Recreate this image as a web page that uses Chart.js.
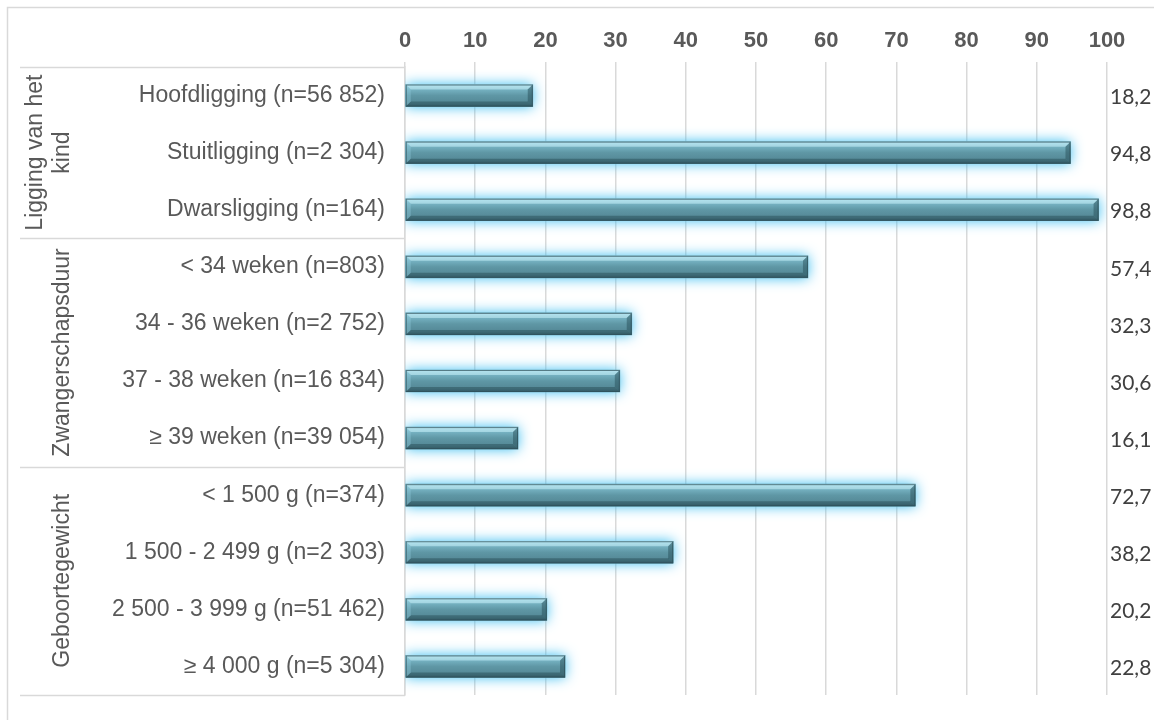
<!DOCTYPE html>
<html>
<head>
<meta charset="utf-8">
<script src="https://cdn.jsdelivr.net/npm/chart.js@4/dist/chart.umd.min.js"></script>
<style>
  html, body { margin: 0; padding: 0; background: #ffffff; }
  #wrap { width: 1154px; height: 720px; position: relative; }
</style>
</head>
<body>
<div id="wrap"><canvas id="c" width="1154" height="720"></canvas></div>
<script>
// Categories (grouped), percentages and axis ticks
const categories = [
  'Hoofdligging (n=56 852)',
  'Stuitligging (n=2 304)',
  'Dwarsligging (n=164)',
  '< 34 weken (n=803)',
  '34 - 36 weken (n=2 752)',
  '37 - 38 weken (n=16 834)',
  '≥ 39 weken (n=39 054)',
  '< 1 500 g (n=374)',
  '1 500 - 2 499 g (n=2 303)',
  '2 500 - 3 999 g (n=51 462)',
  '≥ 4 000 g (n=5 304)'
];
const values = [18.2, 94.8, 98.8, 57.4, 32.3, 30.6, 16.1, 72.7, 38.2, 20.2, 22.8];
const groupNames = [['Ligging van het', 'kind'], ['Zwangerschapsduur'], ['Geboortegewicht']];
const groupSizes = [3, 4, 4];
const xTicks = [0, 10, 20, 30, 40, 50, 60, 70, 80, 90, 100];

const GRID = '#d9d9d9';
const TEXT = '#595959';

// Outer frame of the chart object
const framePlugin = {
  id: 'frame',
  beforeDraw(chart) {
    const ctx = chart.ctx;
    ctx.save();
    ctx.fillStyle = '#ffffff';
    ctx.fillRect(0, 0, chart.width, chart.height);
    ctx.strokeStyle = GRID;
    ctx.lineWidth = 1.5;
    ctx.strokeRect(7.5, 7.5, chart.width + 20, chart.height + 20);
    ctx.restore();
  }
};

// Soft blue glow under the bars, then a bevel on each bar
const bevelPlugin = {
  id: 'bevel',
  beforeDatasetsDraw(chart) {
    const ctx = chart.ctx;
    ctx.save();
    ctx.shadowColor = 'rgba(60,190,240,1)';
    ctx.shadowBlur = 13;
  },
  afterDatasetsDraw(chart) {
    const ctx = chart.ctx;
    ctx.restore();
    const meta = chart.getDatasetMeta(0);
    ctx.save();
    meta.data.forEach(el => {
      const p = el.getProps(['x', 'y', 'base', 'height'], true);
      const x0 = Math.min(p.base, p.x), x1 = Math.max(p.base, p.x);
      const y0 = p.y - p.height / 2, y1 = p.y + p.height / 2;
      const b = 5;
      const g = ctx.createLinearGradient(0, y0, 0, y1);
      g.addColorStop(0, '#9fd6e5');
      g.addColorStop(0.22, '#76b2c2');
      g.addColorStop(0.5, '#5f97a5');
      g.addColorStop(0.85, '#548896');
      g.addColorStop(1, '#3f6874');
      ctx.fillStyle = g;
      ctx.fillRect(x0, y0, x1 - x0, y1 - y0);
      const poly = (pts, fill) => {
        ctx.beginPath();
        ctx.moveTo(pts[0][0], pts[0][1]);
        for (let i = 1; i < pts.length; i++) ctx.lineTo(pts[i][0], pts[i][1]);
        ctx.closePath();
        ctx.fillStyle = fill;
        ctx.fill();
      };
      poly([[x0, y0], [x1, y0], [x1 - b, y0 + b], [x0 + b, y0 + b]], 'rgba(200,240,250,0.55)');
      poly([[x0, y1], [x1, y1], [x1 - b, y1 - b], [x0 + b, y1 - b]], 'rgba(35,70,80,0.45)');
      poly([[x1, y0], [x1, y1], [x1 - b, y1 - b], [x1 - b, y0 + b]], 'rgba(40,80,90,0.5)');
      poly([[x0, y0], [x0, y1], [x0 + b, y1 - b], [x0 + b, y0 + b]], 'rgba(150,210,225,0.35)');
      ctx.strokeStyle = 'rgba(45,80,90,0.7)';
      ctx.lineWidth = 1;
      ctx.strokeRect(x0 + 0.5, y0 + 0.5, x1 - x0 - 1, y1 - y0 - 1);
    });
    ctx.restore();
  }
};

// Group column (boxes and vertical titles) and the value labels on the right
const annotPlugin = {
  id: 'annot',
  afterDraw(chart) {
    const ctx = chart.ctx;
    const ys = chart.scales.y;
    const area = chart.chartArea;
    const step = ys.getPixelForValue(1) - ys.getPixelForValue(0);
    ctx.save();
    // separators
    ctx.strokeStyle = GRID;
    ctx.lineWidth = 1.5;
    const bounds = [area.top];
    let idx = 0;
    groupSizes.forEach(n => {
      idx += n;
      bounds.push(ys.getPixelForValue(idx - 1) + step / 2);
    });
    bounds.forEach(yb => {
      ctx.beginPath();
      ctx.moveTo(20, Math.round(yb) + 0.5);
      ctx.lineTo(area.left, Math.round(yb) + 0.5);
      ctx.stroke();
    });
    // vertical group titles
    ctx.fillStyle = TEXT;
    ctx.font = '23px "Liberation Sans", Arial, sans-serif';
    ctx.textAlign = 'center';
    ctx.textBaseline = 'middle';
    groupNames.forEach((lines, gi) => {
      const cy = (bounds[gi] + bounds[gi + 1]) / 2;
      const lineH = 27;
      lines.forEach((t, li) => {
        const cx = 63 - (lines.length - 1 - li) * lineH;
        ctx.save();
        ctx.translate(cx, cy);
        ctx.rotate(-Math.PI / 2);
        ctx.fillText(t, 0, 0);
        ctx.restore();
      });
    });
    // value labels
    ctx.fillStyle = '#404040';
    ctx.font = '21px Lato, "Open Sans", sans-serif';
    ctx.textAlign = 'left';
    values.forEach((v, i) => {
      const y = ys.getPixelForValue(i);
      ctx.fillText(v.toFixed(1).replace('.', ','), area.right + 3, y + 2);
    });
    ctx.restore();
  }
};

new Chart(document.getElementById('c'), {
  type: 'bar',
  data: {
    labels: categories,
    datasets: [{
      data: values,
      backgroundColor: '#5f97a5',
      borderWidth: 0,
      barThickness: 22
    }]
  },
  options: {
    indexAxis: 'y',
    responsive: false,
    animation: false,
    layout: { padding: { left: 0, right: 47, top: 0, bottom: 25 } },
    plugins: { legend: { display: false }, tooltip: { enabled: false } },
    scales: {
      x: {
        position: 'top',
        min: 0,
        max: 100,
        afterBuildTicks(scale) { scale.ticks = xTicks.map(v => ({ value: v })); },
        afterFit(scale) { scale.height = 67; scale.paddingLeft = 0; scale.paddingRight = 0; },
        ticks: {
          color: TEXT,
          font: { family: '"Liberation Sans", Arial, sans-serif', size: 22, weight: 'bold' },
          padding: 8
        },
        grid: { color: GRID, lineWidth: 1.5, tickLength: 5, drawTicks: true },
        border: { display: false }
      },
      y: {
        afterFit(scale) { scale.width = 405; scale.paddingTop = 0; scale.paddingBottom = 0; },
        ticks: {
          color: TEXT,
          font: { family: '"Liberation Sans", Arial, sans-serif', size: 23 },
          padding: 20,
          autoSkip: false
        },
        grid: { display: false, drawTicks: false },
        border: { display: true, color: GRID, width: 1.5 }
      }
    }
  },
  plugins: [framePlugin, bevelPlugin, annotPlugin]
});
</script>
</body>
</html>
